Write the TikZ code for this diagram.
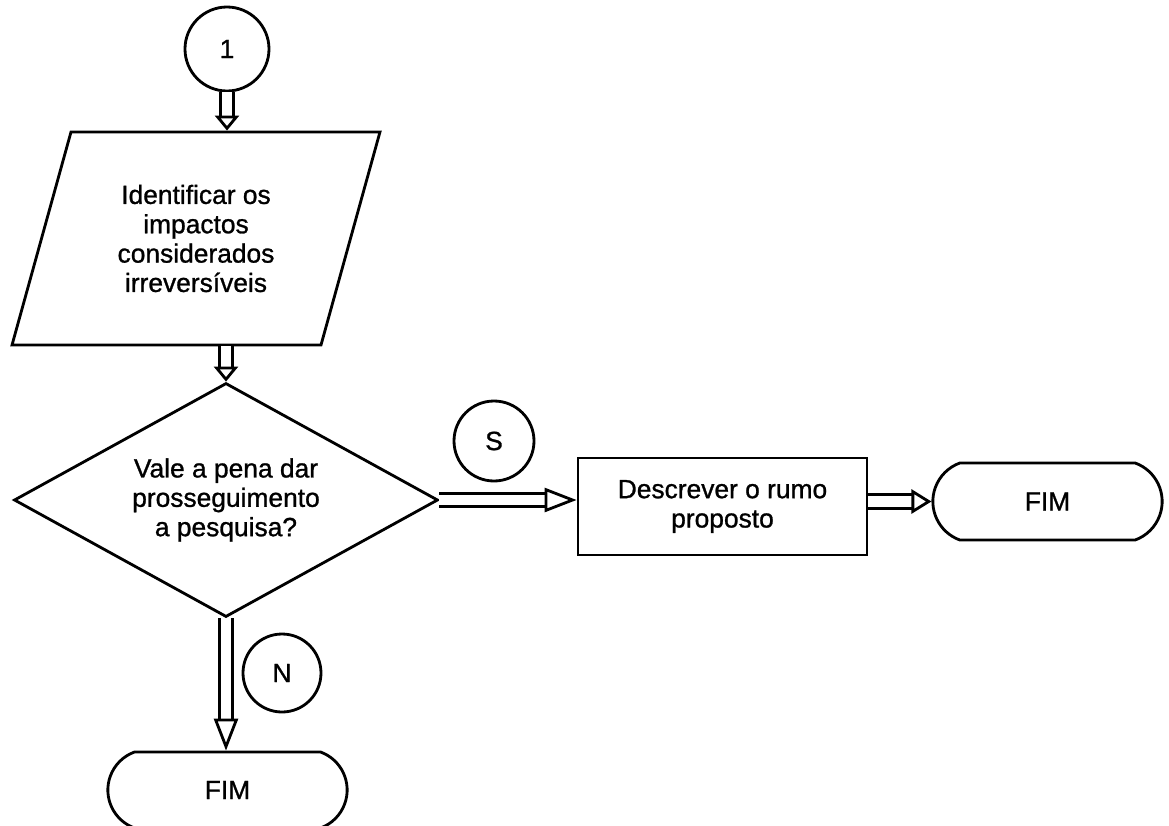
\documentclass[tikz,border=0pt]{standalone}
\usepackage{fontspec}
\setmainfont{Liberation Sans}[FakeBold=1]
\usetikzlibrary{arrows.meta,shapes.geometric,shapes.misc,positioning}

\begin{document}
\begin{tikzpicture}[x=0.2mm, y=-0.2mm, line width=1.6pt,
  every node/.style={font=\fontsize{15}{16.7}\selectfont, align=center},
  conector/.style={draw, circle, minimum size=#1, inner sep=0pt},
  entrada/.style={draw, trapezium, trapezium left angle=71, trapezium right angle=109,
    trapezium stretches=true, minimum width=73.6mm, minimum height=42.6mm, inner sep=0pt},
  decisao/.style={draw, diamond, aspect=1.81, minimum width=84.8mm, minimum height=46.8mm, inner sep=0pt},
  processo/.style={draw, rectangle, minimum width=57.8mm, minimum height=19.4mm},
  terminal/.style={draw, rounded rectangle, rounded rectangle arc length=140,
    minimum height=15.4mm},
  seta/.style={double, double distance=2.1mm, -{Triangle[open, length=#1, width=4.8mm]}},
  seta/.default=3.5mm]

  % page frame
  \useasboundingbox (0,0) rectangle (1169,825);

  % left column
  \node[conector=16.8mm] (um) at (227,49) {1};
  \node[entrada] (ident) at (196,238.5) {Identificar os\\impactos\\considerados\\irreversíveis};
  \node[decisao] (vale) at (226,500) {Vale a pena dar\\prosseguimento\\a pesquisa?};
  \node[conector=15.6mm] (nao) at (282,673) {N};
  \node[terminal, minimum width=50.2mm, minimum height=15.2mm] (fimb) at (227.5,790) {FIM};

  % right branch
  \node[conector=16mm] (sim) at (494,441) {S};
  \node[processo] (rumo) at (722.5,506.5) {Descrever o rumo\\proposto};
  \node[terminal, minimum width=48.2mm] (fimd) at (1047.5,501.5) {FIM};

  % arrows
  \draw[seta=3mm] (um.south) -- (um.south |- ident.north);
  \draw[seta=3mm] (vale.north |- ident.south) -- (vale.north);
  \draw[seta=6.4mm] (vale.east) -- (vale.east -| rumo.west);
  \draw[seta=4mm] (fimd.west -| rumo.east) -- (fimd.west);
  \draw[seta=6.4mm] (vale.south) -- (vale.south |- fimb.north);

\end{tikzpicture}
\end{document}
